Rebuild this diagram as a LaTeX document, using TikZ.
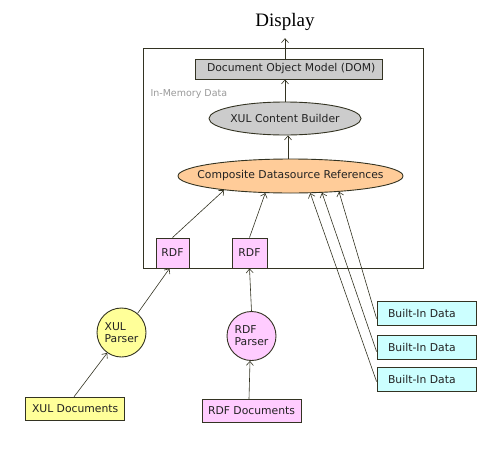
\documentclass[tikz,border=0pt]{standalone}
\usepackage{fontspec}
\setmainfont{DejaVu Sans}
\newfontfamily\dispfont{Liberation Serif}
\usetikzlibrary{arrows.meta,shapes.geometric}
\definecolor{ln}{HTML}{333322}
\definecolor{grayfill}{HTML}{CCCCCC}
\definecolor{peach}{HTML}{FFCC99}
\definecolor{pinkf}{HTML}{FFCCFF}
\definecolor{yel}{HTML}{FFFF99}
\definecolor{cyanf}{HTML}{CCFFFF}
\definecolor{txt}{HTML}{222222}
\newcommand{\leftpad}[3]{\makebox[#1][l]{\hspace{#2}#3}}
\tikzset{
  base/.style={draw=ln, line width=0.9pt, inner sep=0pt, text=txt, font=\fontsize{10.8}{12}\selectfont},
  rbox/.style={base, rectangle},
  lbox/.style={base, rectangle, minimum width=99pt, minimum height=23.5pt},
  ell/.style={base, ellipse},
  lbl/.style={text=txt, font=\fontsize{10.8}{12}\selectfont, inner sep=0pt},
  circ/.style={base, circle, minimum size=49pt, align=left},
  arr/.style={draw=ln, line width=0.6pt, -{Straight Barb[length=4pt,width=7pt]}},
}
\begin{document}
\begin{tikzpicture}[x=1pt,y=-1pt]
\useasboundingbox (0,0) rectangle (500,450);
\node[draw=ln, line width=0.9pt, minimum width=280pt, minimum height=220pt, inner sep=0pt] (frame) at (283,158) {};
\node[font=\dispfont\fontsize{19}{22}\selectfont, text=black] (display) at (285,22) {Display};
\node[rbox, fill=grayfill, minimum width=187pt, minimum height=20pt] (dom) at (288.5,69) {\leftpad{187pt}{12pt}{Document Object Model (DOM)}};
\node[anchor=west, text=gray!80, font=\fontsize{9.5}{10}\selectfont] (mem) at (147,94) {In-Memory Data};
\node[ell, fill=grayfill, minimum width=152pt, minimum height=33pt] (xcb) at (285,118.5) {};
\node[lbl] (xcbt) at (xcb.center) {XUL Content Builder};
\node[ell, fill=peach, minimum width=225pt, minimum height=34pt] (comp) at (290.5,176) {};
\node[lbl] (compt) at (comp.center) {Composite Datasource References};
\node[rbox, fill=pinkf, minimum width=33pt, minimum height=30pt] (rdf1) at (172.5,253) {RDF};
\node[rbox, fill=pinkf, minimum width=35pt, minimum height=30pt] (rdf2) at (249.5,253) {RDF};
\node[circ, fill=yel] (xp) at (121.5,332.5) {XUL\\Parser};
\node[lbox, fill=yel] (xd) at (74.5,409) {\leftpad{99pt}{7pt}{XUL Documents}};
\node[circ, fill=pinkf] (rp) at (251.5,336) {RDF\\Parser};
\node[lbox, fill=pinkf] (rd) at (251.5,411) {\leftpad{99pt}{6pt}{RDF Documents}};
\node[lbox, fill=cyanf] (b1) at (426.5,313.5) {\leftpad{99pt}{11pt}{Built-In Data}};
\node[lbox, fill=cyanf] (b2) at (426.5,347.5) {\leftpad{99pt}{11pt}{Built-In Data}};
\node[lbox, fill=cyanf] (b3) at (426.5,379.5) {\leftpad{99pt}{11pt}{Built-In Data}};
% connectors
\draw[arr] (dom.north -| display.south) -- ([yshift=-4pt]display.south);
\draw[arr] (xcb.north) -- (xcb.north |- dom.south);
\draw[arr] (comp.north -| 288,0) -- (xcb.south -| 288,0);
\draw[arr] (rdf1.north) -- (comp.-168);
\draw[arr] (rdf2.north) -- (comp.-146);
\draw[arr] ([yshift=-5pt]b1.west) -- (comp.-18);
\draw[arr] ([yshift=-4pt]b2.west) -- (comp.-28);
\draw[arr] ([yshift=-2pt]b3.west) -- (comp.-41);
\draw[arr] (xp.50) -- ([xshift=-3pt]rdf1.south);
\draw[arr] (rp.north) -- (rdf2.south);
\draw[arr] ([xshift=-0.5pt]xd.north) -- (xp.-125);
\draw[arr] (rd.north -| 249,0) -- (rp.south -| 250,0);
\end{tikzpicture}
\end{document}
